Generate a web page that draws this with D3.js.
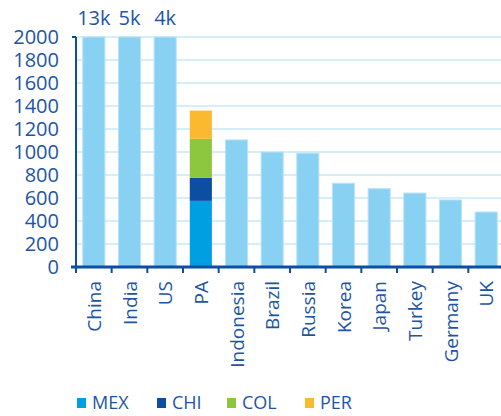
<!DOCTYPE html>
<html>
<head>
<meta charset="utf-8">
<script src="https://cdn.jsdelivr.net/npm/d3@7"></script>
<style>
  body { margin: 0; background: #fff; }
  svg text { font-family: "Open Sans", "Noto Sans", sans-serif; fill: #1d55a5; }
</style>
</head>
<body>
<div id="chart"></div>
<script>
(function() {
  var countries = ["China", "India", "US", "PA", "Indonesia", "Brazil", "Russia", "Korea", "Japan", "Turkey", "Germany", "UK"];
  var totals = [13000, 5000, 4000, null, 1105, 1000, 990, 728, 681, 643, 583, 478];
  var topLabels = ["13k", "5k", "4k"];
  var paParts = ["MEX", "CHI", "COL", "PER"];
  var paValues = [575, 200, 340, 245];
  var paColors = ["#009fe3", "#0b4ea2", "#8dc63f", "#fbb92f"];
  var yTicks = [0, 200, 400, 600, 800, 1000, 1200, 1400, 1600, 1800, 2000];

  var width = 501, height = 416;
  var margin = {top: 37, right: -3, bottom: 149, left: 76};
  var barColor = "#89d1f2", axisColor = "#0b4ea2", gridColor = "#d5eefa";

  var svg = d3.select("#chart").append("svg")
    .attr("width", width).attr("height", height);

  var x = d3.scaleBand().domain(countries)
    .range([margin.left, width - margin.right]).paddingInner(0.38).paddingOuter(0.19);
  var y = d3.scaleLinear().domain([0, 2000]).range([height - margin.bottom, margin.top]);

  // grid
  svg.append("g").selectAll("line").data(yTicks.slice(1)).enter().append("line")
    .attr("x1", margin.left).attr("x2", width)
    .attr("y1", function(d) { return y(d); }).attr("y2", function(d) { return y(d); })
    .style("stroke", gridColor).style("stroke-width", 2);

  // plain bars, clipped at the top of the axis
  var plain = countries.map(function(c, i) { return {c: c, v: totals[i]}; })
    .filter(function(d) { return d.v !== null; });
  svg.append("g").selectAll("rect").data(plain).enter().append("rect")
    .attr("x", function(d) { return x(d.c); })
    .attr("width", x.bandwidth())
    .attr("y", function(d) { return y(Math.min(d.v, 2000)); })
    .attr("height", function(d) { return y(0) - y(Math.min(d.v, 2000)); })
    .style("fill", barColor).style("stroke", "#b9e3f7").style("stroke-width", 1);

  // stacked PA bar
  var cum = 0;
  var stack = paValues.map(function(v, i) {
    var s = {k: paParts[i], y0: cum, y1: cum + v, color: paColors[i]};
    cum += v;
    return s;
  });
  svg.append("g").selectAll("rect").data(stack).enter().append("rect")
    .attr("x", x("PA")).attr("width", x.bandwidth())
    .attr("y", function(d) { return y(d.y1); })
    .attr("height", function(d) { return y(d.y0) - y(d.y1); })
    .style("fill", function(d) { return d.color; });

  // labels above clipped bars
  svg.append("g").selectAll("text").data(topLabels).enter().append("text")
    .attr("x", function(d, i) { return x(countries[i]) + x.bandwidth() / 2; })
    .attr("y", 25)
    .attr("text-anchor", "middle")
    .style("font-size", "20px")
    .text(function(d) { return d; });

  // y axis
  var yAxis = d3.axisLeft(y).tickValues(yTicks).tickFormat(d3.format("d")).tickSize(0).tickPadding(17);
  var gy = svg.append("g").attr("transform", "translate(" + margin.left + ",0)").call(yAxis);
  gy.select(".domain").remove();
  gy.selectAll("text").style("font-size", "20px").style("font-family", null).style("fill", "#1d55a5");
  svg.append("line").attr("x1", margin.left).attr("x2", margin.left)
    .attr("y1", y(2000)).attr("y2", y(0))
    .style("stroke", axisColor).style("stroke-width", 2);
  svg.append("line").attr("x1", margin.left - 4).attr("x2", margin.left)
    .attr("y1", y(2000)).attr("y2", y(2000))
    .style("stroke", axisColor).style("stroke-width", 2);

  // x axis
  var step = x.step();
  var tickXs = countries.map(function(c) { return x(c) - (step - x.bandwidth()) / 2; });
  var gx = svg.append("g");
  gx.append("line").attr("x1", margin.left - 5).attr("x2", width)
    .attr("y1", y(0)).attr("y2", y(0))
    .style("stroke", axisColor).style("stroke-width", 3);
  gx.selectAll("line.tick").data(tickXs).enter().append("line").attr("class", "tick")
    .attr("x1", function(d) { return d; }).attr("x2", function(d) { return d; })
    .attr("y1", y(0)).attr("y2", y(0) + 6)
    .style("stroke", axisColor).style("stroke-width", 2);
  gx.selectAll("text").data(countries).enter().append("text")
    .attr("transform", function(d) {
      return "translate(" + (x(d) + x.bandwidth() / 2 + 7) + "," + (y(0) + 14) + ") rotate(-90)";
    })
    .attr("text-anchor", "end")
    .style("font-size", "19px")
    .text(function(d) { return d; });

  // legend
  var legX = [77, 157, 227, 305];
  var leg = svg.append("g").selectAll("g").data(paParts).enter().append("g")
    .attr("transform", function(d, i) { return "translate(" + legX[i] + ",398)"; });
  leg.append("rect").attr("width", 9).attr("height", 10)
    .style("fill", function(d, i) { return paColors[i]; });
  leg.append("text").attr("x", 15).attr("y", 11)
    .style("font-size", "18px")
    .text(function(d) { return d; });
})();
</script>
</body>
</html>
